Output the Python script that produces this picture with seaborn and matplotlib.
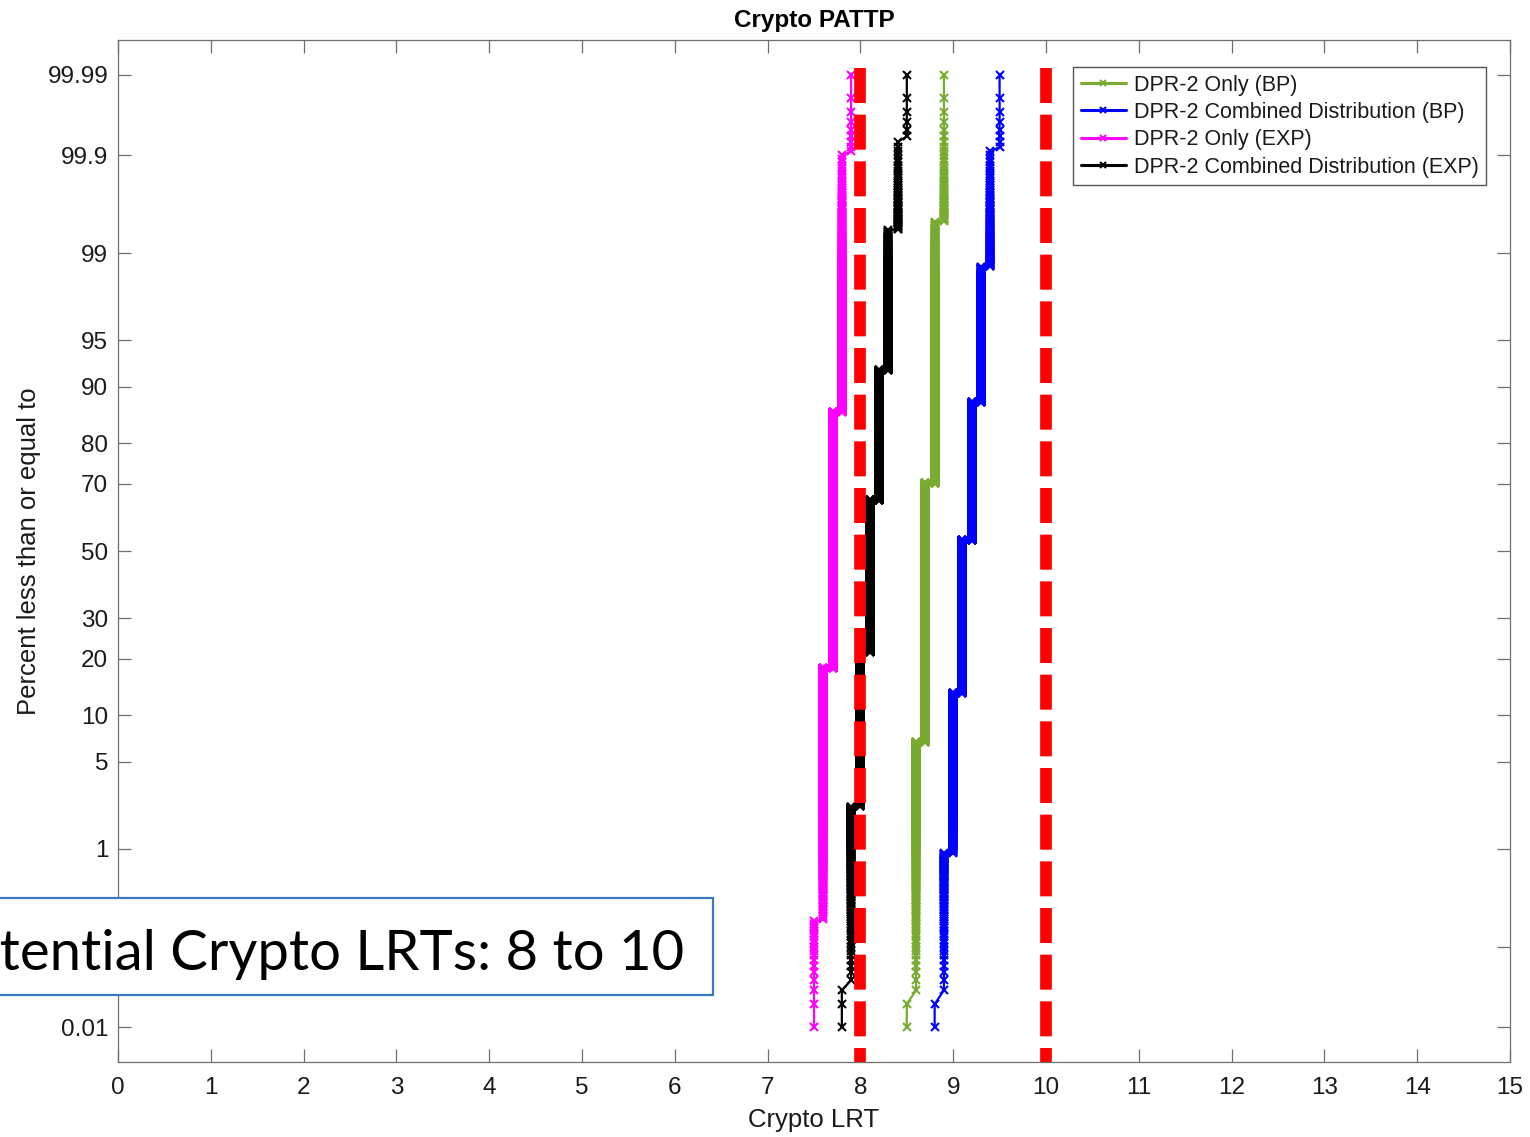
import numpy as np
import pandas as pd
import matplotlib
matplotlib.use("Agg")
import matplotlib.pyplot as plt
from matplotlib.patches import Rectangle
from matplotlib.ticker import NullLocator, FixedLocator, FixedFormatter
import seaborn as sns
from statistics import NormalDist

# ---------------- data ----------------
# Each series: distinct Crypto LRT values and how many of the samples take that value
bp_only_values = [8.5, 8.6, 8.7, 8.8, 8.9]
bp_only_counts = [2, 676, 6345, 2926, 50]

bp_comb_values = [8.8, 8.9, 9.0, 9.1, 9.2, 9.3, 9.4, 9.5]
bp_comb_counts = [2, 89, 1246, 4006, 3435, 1090, 123, 8]

exp_only_values = [7.5, 7.6, 7.7, 7.8, 7.9]
exp_only_counts = [19, 1785, 6813, 1373, 9]

exp_comb_values = [7.8, 7.9, 8.0, 8.1, 8.2, 8.3, 8.4, 8.5]
exp_comb_counts = [3, 226, 1928, 4391, 2665, 726, 54, 6]

series_names = ["DPR-2 Only (BP)", "DPR-2 Combined Distribution (BP)",
                "DPR-2 Only (EXP)", "DPR-2 Combined Distribution (EXP)"]
series_colors = ["#77AC30", "#0000FF", "#FF00FF", "#000000"]

threshold_lrts = [8, 10]

y_tick_percent = [0.01, 0.1, 1, 5, 10, 20, 30, 50, 70, 80, 90, 95, 99, 99.9, 99.99]
y_tick_labels = ["0.01", "0.1", "1", "5", "10", "20", "30", "50", "70", "80",
                 "90", "95", "99", "99.9", "99.99"]
x_ticks = list(range(0, 16))

annotation_text = "Potential Crypto LRTs: 8 to 10"

# ---------------- build the probability-plot table ----------------
rows = []
for name, vals, cnts in zip(series_names,
                            [bp_only_values, bp_comb_values, exp_only_values, exp_comb_values],
                            [bp_only_counts, bp_comb_counts, exp_only_counts, exp_comb_counts]):
    x = np.repeat(np.asarray(vals, float), cnts)
    n = len(x)
    p = np.arange(1, n + 1) / (n + 1)      # plotting positions
    rows.append(pd.DataFrame({"series": name, "lrt": x, "prob": p}))
df = pd.concat(rows, ignore_index=True)

# ---------------- normal probability scale ----------------
_nd = NormalDist()
_ppf = np.vectorize(_nd.inv_cdf, otypes=[float])
_cdf = np.vectorize(_nd.cdf, otypes=[float])

def fwd(p):
    p = np.clip(np.asarray(p, dtype=float), 1e-12, 1 - 1e-12)
    return _ppf(p)

def inv(z):
    return _cdf(np.asarray(z, dtype=float))

# ---------------- style ----------------
sns.set_theme(style="ticks")
plt.rcParams["font.family"] = ["Liberation Sans", "DejaVu Sans"]
plt.rcParams["axes.edgecolor"] = "#6e6e6e"
plt.rcParams["text.color"] = "#1a1a1a"
plt.rcParams["xtick.color"] = "#6e6e6e"
plt.rcParams["ytick.color"] = "#6e6e6e"
plt.rcParams["xtick.labelcolor"] = "#1a1a1a"
plt.rcParams["ytick.labelcolor"] = "#1a1a1a"

fig = plt.figure(figsize=(15.3, 11.37), dpi=100)
ax = fig.add_axes([118 / 1530, 1 - 1062 / 1137, (1510 - 118) / 1530, (1062 - 40) / 1137])
ax.set_yscale("function", functions=(fwd, inv))

for name, color in zip(series_names, series_colors):
    sub = df[df["series"] == name]
    sns.lineplot(data=sub, x="lrt", y="prob", sort=False, estimator=None,
                 color=color, marker="x", markersize=5.6, markeredgewidth=1.5,
                 markeredgecolor=color, linewidth=1.6, label=name, ax=ax)

for t in threshold_lrts:
    ax.axvline(t, ymin=0.9726, ymax=0.0, color="#FF0000", linewidth=8.4,
               linestyle=(0, (3.0, 1.0)), solid_capstyle="butt")

ax.set_xlim(0, 15)
ax.set_ylim(_nd.cdf(-3.992), _nd.cdf(3.992))
ax.xaxis.set_major_locator(FixedLocator(x_ticks))
ax.set_xticklabels([str(v) for v in x_ticks])
ax.yaxis.set_major_locator(FixedLocator([v / 100 for v in y_tick_percent]))
ax.yaxis.set_major_formatter(FixedFormatter(y_tick_labels))
ax.yaxis.set_minor_locator(NullLocator())
ax.xaxis.set_minor_locator(NullLocator())

for s in ax.spines.values():
    s.set_visible(True)
    s.set_linewidth(0.9)
ax.tick_params(axis="both", which="major", direction="in", length=9.4, width=0.9,
               top=True, right=True, labelsize=17.5)
ax.tick_params(axis="x", pad=11)
ax.tick_params(axis="y", pad=7)

ax.set_xlabel("Crypto LRT", fontsize=18.5, labelpad=6, color="#1a1a1a")
ax.set_ylabel("Percent less than or equal to", fontsize=18.5, labelpad=5, color="#1a1a1a")
ax.set_title("Crypto PATTP", fontsize=17.5, fontweight="bold", pad=9, color="#000000")

leg = ax.legend(loc="upper right", bbox_to_anchor=(1486 / 1530, 1 - 67 / 1137),
                bbox_transform=fig.transFigure, borderaxespad=0, fontsize=15.5,
                frameon=True, fancybox=False, shadow=False, framealpha=1,
                edgecolor="#555555", handlelength=2.1, handletextpad=0.35,
                labelspacing=0.3, borderpad=0.35, numpoints=1)
leg.get_frame().set_linewidth(1.0)
for h in leg.get_lines():
    h.set_markersize(5)
    h.set_linewidth(2.2)

# annotation box overlaid on the figure (its left part runs off the canvas)
box = Rectangle((-6 / 1530, 1 - 995 / 1137), 719 / 1530, 97 / 1137,
                transform=fig.transFigure, facecolor="white", edgecolor="#3A78C3",
                linewidth=1.6, zorder=10)
fig.add_artist(box)
fig.text(684 / 1530, 1 - 970 / 1137, annotation_text, ha="right", va="baseline",
         fontsize=40.5, family=["Lato", "DejaVu Sans"], color="#000000", zorder=11)

fig.savefig("out.png", dpi=100)
